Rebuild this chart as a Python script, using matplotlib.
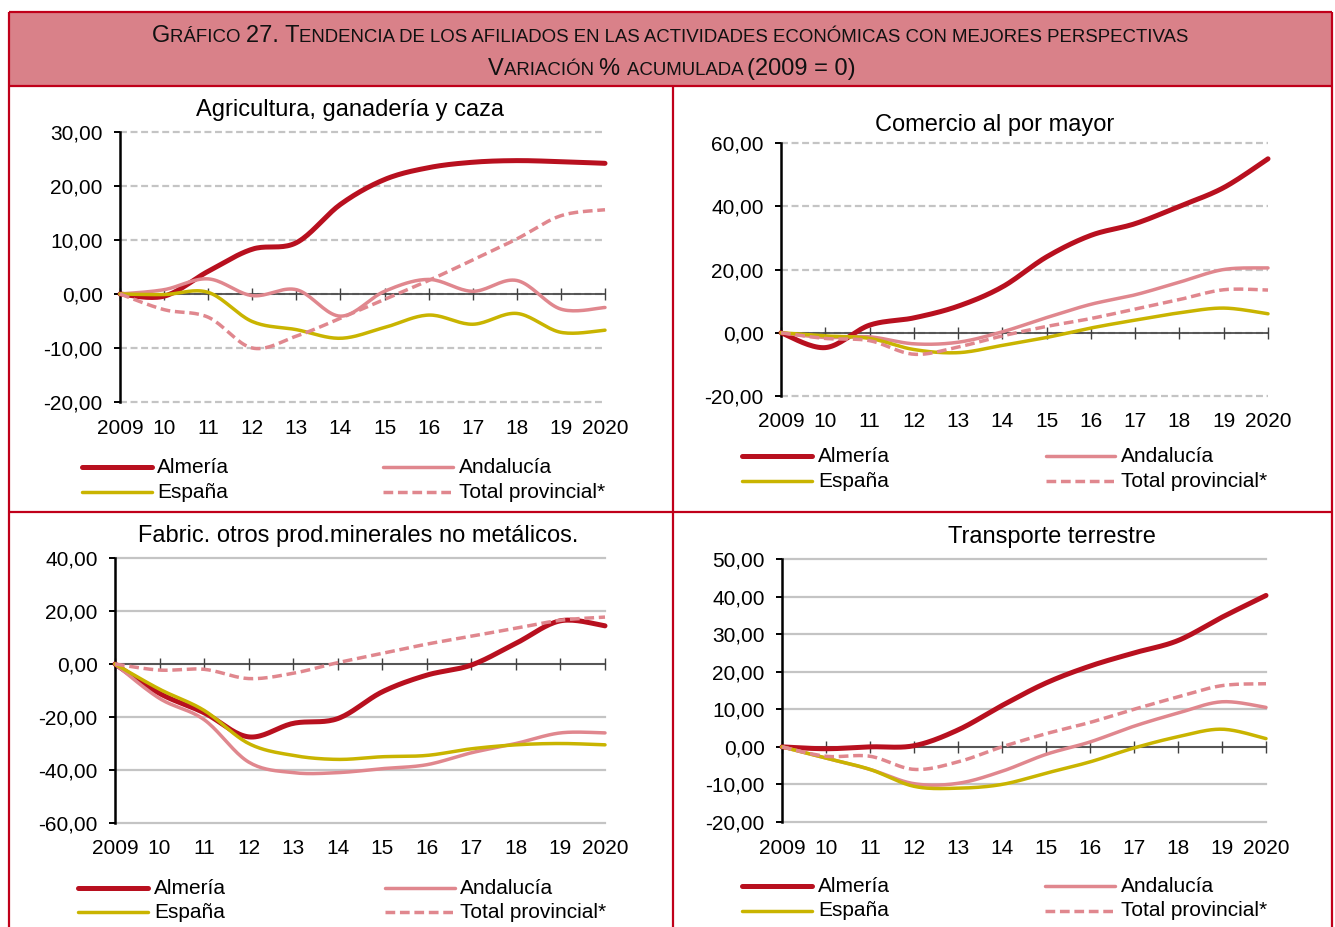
import numpy as np
import matplotlib
matplotlib.use("Agg")
import matplotlib.pyplot as plt
from matplotlib.lines import Line2D
from matplotlib.patches import Rectangle
import matplotlib.transforms as mtransforms

plt.rcParams['font.family'] = ['Liberation Sans', 'DejaVu Sans']
plt.rcParams['lines.scale_dashes'] = False

# ---------------- data ----------------
years = ["2009", "10", "11", "12", "13", "14", "15", "16", "17", "18", "19", "2020"]
series_names = ["Almería", "Andalucía", "España", "Total provincial*"]

agri_almeria = [0, -0.4, 4.2, 8.3, 9.5, 16.6, 21.2, 23.4, 24.4, 24.7, 24.5, 24.2]
agri_andalucia = [0, 0.8, 2.8, -0.3, 0.8, -4.1, 0.5, 2.7, 0.5, 2.5, -2.8, -2.5]
agri_espana = [0, -0.1, 0.3, -5.1, -6.6, -8.2, -6.2, -3.9, -5.6, -3.6, -7.1, -6.7]
agri_total = [0, -2.9, -4.3, -10.0, -7.8, -4.5, -1.0, 2.5, 6.3, 10.2, 14.5, 15.6]

com_almeria = [0, -4.7, 2.4, 4.7, 8.4, 14.5, 24.0, 30.8, 34.5, 40.0, 45.9, 55.0]
com_andalucia = [0, -1.5, -1.3, -3.5, -3.0, 0.3, 4.8, 9.0, 12.0, 16.0, 20.0, 20.5]
com_espana = [0, -1.0, -1.8, -5.3, -6.3, -4.0, -1.5, 1.5, 4.0, 6.3, 7.8, 6.0]
com_total = [0, -1.8, -2.5, -6.8, -4.5, -1.0, 2.0, 4.5, 7.5, 10.5, 13.6, 13.5]

fab_almeria = [0, -11.1, -18.4, -27.5, -22.4, -20.6, -10.5, -4.2, -0.4, 7.8, 16.3, 14.4]
fab_andalucia = [0, -13.0, -21.0, -37.0, -41.0, -41.0, -39.5, -38.0, -33.5, -30.0, -26.0, -26.0]
fab_espana = [0, -9.5, -17.5, -30.0, -34.5, -36.0, -35.0, -34.5, -32.0, -30.5, -30.0, -30.5]
fab_total = [0, -2.3, -2.0, -5.5, -3.5, 0.5, 4.0, 7.5, 10.5, 13.5, 16.5, 17.7]

tra_almeria = [0, -0.5, 0.0, 0.3, 4.5, 11.0, 17.0, 21.5, 25.0, 28.3, 34.5, 40.3]
tra_andalucia = [0, -3.0, -6.0, -9.8, -9.7, -6.5, -2.0, 1.3, 5.5, 9.0, 12.0, 10.5]
tra_espana = [0, -3.0, -6.0, -10.5, -11.0, -10.0, -7.0, -4.0, -0.3, 2.7, 4.7, 2.2]
tra_total = [0, -2.5, -2.5, -6.0, -4.0, 0.0, 3.5, 6.5, 10.0, 13.3, 16.3, 16.8]

titles = ["Agricultura, ganadería y caza", "Comercio al por mayor",
          "Fabric. otros prod.minerales no metálicos.", "Transporte terrestre"]
header1 = "Gráfico 27. Tendencia de los afiliados en las actividades económicas con mejores perspectivas"
header2 = "Variación % acumulada (2009 = 0)"

# ---------------- styles ----------------
W, H = 1335, 927
RED = "#B8101F"
PINK = "#E0878E"
YEL = "#C9B400"
BORDER = "#C0001A"
HEADFILL = "#D98189"
GRID = "#C4C4C4"

styles = [
    dict(color=RED, lw=3.6, ls="-"),
    dict(color=PINK, lw=2.5, ls="-"),
    dict(color=YEL, lw=2.5, ls="-"),
    dict(color=PINK, lw=2.5, ls=(0, (7.0, 3.4))),
]

fig = plt.figure(figsize=(W / 100, H / 100), dpi=100)
bg = fig.add_axes([0, 0, 1, 1])
bg.set_xlim(0, W)
bg.set_ylim(H, 0)
bg.axis("off")
bg.set_zorder(0)

# frame
bg.add_patch(Rectangle((9, 12), 1323, 74, facecolor=HEADFILL, edgecolor="none"))
for (x0, y0, x1, y1) in [(9, 12, 1332, 12), (9, 86, 1332, 86), (9, 12, 9, 927),
                         (1332, 12, 1332, 927), (673, 86, 673, 927), (9, 512, 1332, 512)]:
    bg.add_line(Line2D([x0, x1], [y0, y1], color=BORDER, lw=1.6, solid_capstyle="butt"))

# small caps header
renderer = fig.canvas.get_renderer()


def runs_of(s):
    runs = []
    for ch in s:
        if ch == " ":
            big = runs[-1][1] if runs else True
        else:
            big = not ch.islower()
        if runs and runs[-1][1] == big:
            runs[-1][0] += ch
        else:
            runs.append([ch, big])
    return runs


def text_width(s, size):
    t1 = bg.text(0, 0, "X" + s + "X", fontsize=size)
    t2 = bg.text(0, 0, "XX", fontsize=size)
    w = t1.get_window_extent(renderer).width - t2.get_window_extent(renderer).width
    t1.remove()
    t2.remove()
    return w


def smallcaps(s, xc, y, big=17.0, small=13.4):
    rs = runs_of(s)
    widths = []
    for txt, b in rs:
        widths.append(text_width(txt.upper(), big if b else small))
    x = xc - sum(widths) / 2
    for (txt, b), w in zip(rs, widths):
        bg.text(x, y, txt.upper(), fontsize=big if b else small, ha="left", va="baseline",
                color="#111111")
        x += w


smallcaps(header1, 670, 42)
smallcaps(header2, 672, 75)


# ---------------- panels ----------------
def smooth(vals, n=20):
    y = np.asarray(vals, dtype=float)
    x = np.arange(len(y), dtype=float)
    px = np.concatenate([[x[0]], x, [x[-1]]])
    py = np.concatenate([[y[0]], y, [y[-1]]])
    xs, ys = [], []
    for i in range(1, len(px) - 2):
        t = np.linspace(0, 1, n, endpoint=False)
        for arr, out in ((px, xs), (py, ys)):
            p0, p1, p2, p3 = arr[i - 1], arr[i], arr[i + 1], arr[i + 2]
            out.extend(0.5 * ((2 * p1) + (-p0 + p2) * t + (2 * p0 - 5 * p1 + 4 * p2 - p3) * t ** 2
                              + (-p0 + 3 * p1 - 3 * p2 + p3) * t ** 3))
    xs.append(x[-1])
    ys.append(y[-1])
    return np.array(xs), np.array(ys)


panels = [
    dict(box=(120, 605, 132, 402), ylim=(-20, 30), step=10, grid_ls=(0, (5.0, 2.6)),
         data=[agri_almeria, agri_andalucia, agri_espana, agri_total],
         title=(350, 110), xlab_y=428, leg=(82, 152, 157, 383, 453, 459, 467, 492)),
    dict(box=(781, 1268, 143, 396), ylim=(-20, 60), step=20, grid_ls=(0, (5.0, 2.6)),
         data=[com_almeria, com_andalucia, com_espana, com_total],
         title=(995, 125), xlab_y=421, leg=(742, 812, 818, 1046, 1115, 1121, 456, 481)),
    dict(box=(115, 605, 558, 823), ylim=(-60, 40), step=20, grid_ls="-",
         data=[fab_almeria, fab_andalucia, fab_espana, fab_total],
         title=(358, 536), xlab_y=848, leg=(78, 148, 154, 385, 455, 460, 888, 912)),
    dict(box=(782, 1266, 559, 822), ylim=(-20, 50), step=10, grid_ls="-",
         data=[tra_almeria, tra_andalucia, tra_espana, tra_total],
         title=(1052, 537), xlab_y=848, leg=(742, 812, 818, 1045, 1115, 1121, 886, 911)),
]

FS_Y = 15
FS_X = 15
FS_LEG = 15
FS_T = 17.0
for k, p in enumerate(panels):
    x0, x1, y0, y1 = p["box"]
    ax = fig.add_axes([x0 / W, 1 - y1 / H, (x1 - x0) / W, (y1 - y0) / H])
    ax.set_zorder(2)
    ax.patch.set_alpha(0)
    ax.set_xlim(0, len(years) - 1)
    ax.set_ylim(*p["ylim"])
    yt = np.arange(p["ylim"][0], p["ylim"][1] + 0.1, p["step"])
    ax.set_yticks(yt)
    ax.set_yticklabels([f"{v:.2f}".replace(".", ",") for v in yt], fontsize=FS_Y)
    for v in yt:
        ax.axhline(v, color=GRID, lw=1.6, ls=p["grid_ls"], zorder=1, clip_on=False)
    for s in ("top", "right"):
        ax.spines[s].set_visible(False)
    ax.spines["left"].set_linewidth(1.8)
    ax.spines["left"].set_color("black")
    ax.spines["bottom"].set_position(("data", 0))
    ax.spines["bottom"].set_color("#404040")
    ax.spines["bottom"].set_linewidth(1.2)
    ax.set_xticks(range(len(years)))
    ax.tick_params(axis="x", direction="inout", length=9, width=1.0, color="#404040",
                   labelbottom=False)
    ax.tick_params(axis="y", direction="out", length=4.5, width=1.4, color="black", pad=8)
    for vals, st in zip(p["data"], styles):
        xs, ys = smooth(vals)
        ax.plot(xs, ys, color=st["color"], lw=st["lw"], ls=st["ls"], zorder=3,
                solid_capstyle="round", dash_capstyle="butt", clip_on=False)
    # year labels at the bottom
    tr = mtransforms.blended_transform_factory(ax.transData, bg.transData)
    for i, lab in enumerate(years):
        ax.text(i, p["xlab_y"], lab, transform=tr, ha="center", va="center", fontsize=FS_X)
    # title
    bg.text(p["title"][0], p["title"][1], titles[k], ha="center", va="center", fontsize=FS_T)
    # legend
    la, lb, lt, ra, rb, rt, r1, r2 = p["leg"]
    pos = [(la, lb, lt, r1), (ra, rb, rt, r1), (la, lb, lt, r2), (ra, rb, rt, r2)]
    for (a, b, t, yy), name, st in zip(pos, series_names, styles):
        bg.add_line(Line2D([a, b], [yy, yy], color=st["color"], lw=st["lw"], ls=st["ls"],
                           solid_capstyle="round", dash_capstyle="butt"))
        bg.text(t, yy, name, ha="left", va="center", fontsize=FS_LEG)

fig.savefig("out.png", dpi=100)
